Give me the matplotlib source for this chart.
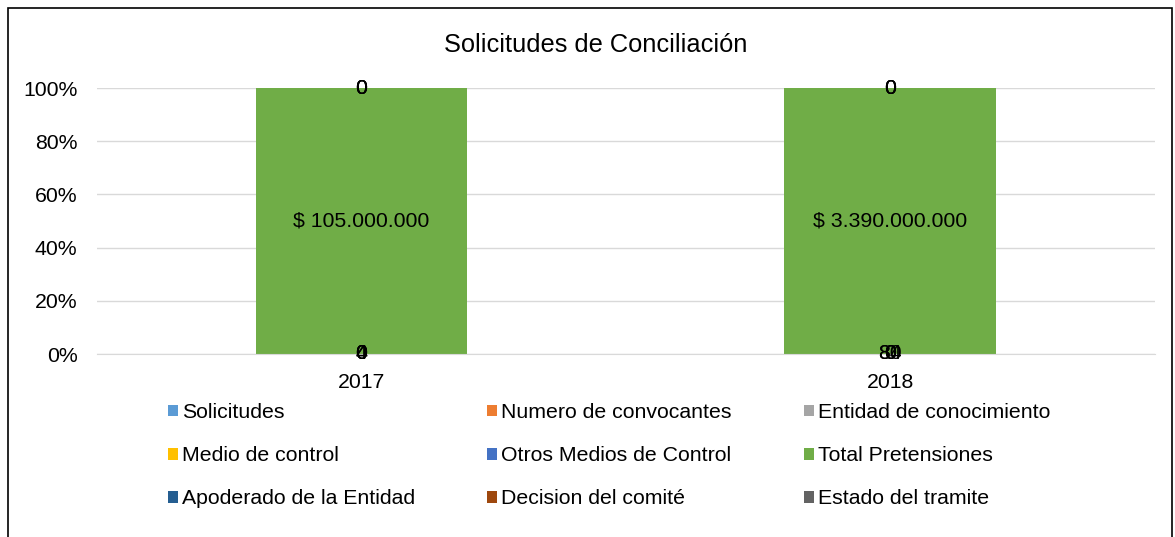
import matplotlib
matplotlib.use("Agg")
import matplotlib.pyplot as plt
from matplotlib.patches import Rectangle, Patch
import numpy as np

plt.rcParams['font.family'] = ['Liberation Sans', 'DejaVu Sans']

years = ["2017", "2018"]
series_names = ["Solicitudes", "Numero de convocantes", "Entidad de conocimiento",
                "Medio de control", "Otros Medios de Control", "Total Pretensiones",
                "Apoderado de la Entidad", "Decision del comité", "Estado del tramite"]
solicitudes = [4, 80]
convocantes = [4, 84]
entidad = [0, 0]
medio = [0, 0]
otros = [0, 0]
total_pret = [105000000, 3390000000]
apoderado = [0, 0]
decision = [0, 0]
estado = [0, 0]
colors = ["#5B9BD5", "#ED7D31", "#A5A5A5", "#FFC000", "#4472C4", "#70AD47",
          "#255E91", "#9E480E", "#636363"]

data = [solicitudes, convocantes, entidad, medio, otros, total_pret, apoderado, decision, estado]
arr = np.array(data, dtype=float)
totals = arr.sum(axis=0)
pct = arr / totals * 100

FS = 15.3

def fmt(v, money):
    s = f"{int(v):,}".replace(",", ".")
    return f"$ {s}" if money else s

fig = plt.figure(figsize=(11.75, 5.37), dpi=100)
ax = fig.add_axes([97/1175, 1-354/537, (1154.5-97)/1175, (354-88)/537])

x = np.arange(len(years))
bottom = np.zeros(len(years))
for i, (name, vals) in enumerate(zip(series_names, data)):
    bars = ax.bar(x, pct[i], bottom=bottom, width=0.4, color=colors[i], label=name, zorder=2)
    labels = [fmt(v, name == "Total Pretensiones") for v in vals]
    ax.bar_label(bars, labels=labels, label_type='center', fontsize=FS, color='black')
    bottom += pct[i]

ax.set_xlim(-0.5, 1.5)
ax.set_ylim(0, 100)
ticks = [0, 20, 40, 60, 80, 100]
ax.set_yticks(ticks)
ax.set_yticklabels([f"{v}%" for v in ticks], fontsize=FS)
ax.set_xticks(x)
ax.set_xticklabels(years, fontsize=FS)
ax.yaxis.grid(True, color="#D9D9D9", linewidth=1, zorder=0)
ax.set_axisbelow(True)
for s in ["top", "right", "left"]:
    ax.spines[s].set_visible(False)
ax.spines["bottom"].set_color("#D9D9D9")
ax.tick_params(axis='both', length=0)
ax.tick_params(axis='x', pad=13.5)
ax.tick_params(axis='y', pad=14)

# legend: three columns at fixed positions, items filled row by row
col_x = [168, 487, 804]
for c in range(3):
    idx = [c, c + 3, c + 6]
    handles = [Patch(facecolor=colors[k], label=series_names[k]) for k in idx]
    fig.legend(handles=handles, ncol=1, loc='upper left',
               bbox_to_anchor=(col_x[c]/1175, 1-403/537),
               frameon=False, fontsize=FS, handlelength=0.47, handleheight=0.47,
               handletextpad=0.2, labelspacing=1.14, borderpad=0, borderaxespad=0)

fig.text(596/1175, 1-44.5/537, "Solicitudes de Conciliación", ha='center', va='center', fontsize=18.3)

fig.add_artist(Rectangle((8/1175, -0.05), (1172-8)/1175, 1.05-8/537, transform=fig.transFigure,
                         fill=False, edgecolor='black', linewidth=1.2))

fig.savefig("out.png", dpi=100)
